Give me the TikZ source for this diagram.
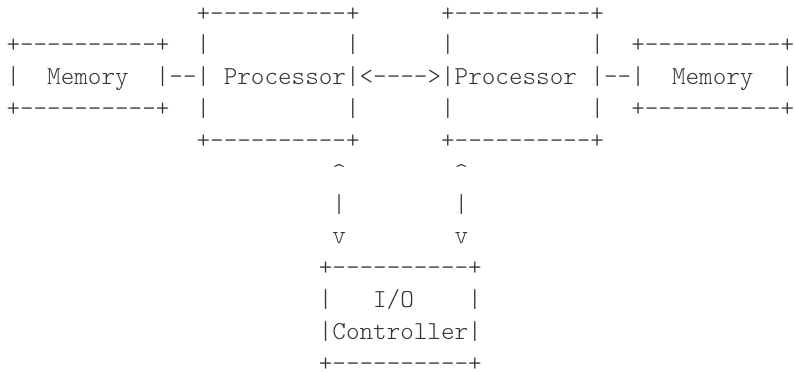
\documentclass[tikz,border=0pt]{standalone}
\usepackage{fontspec}
\definecolor{ink}{HTML}{333333}
\begin{document}
\begin{tikzpicture}[x=1pt,y=-1pt,
  asciirow/.style={anchor=base west, inner sep=0pt, outer sep=0pt,
    font=\ttfamily\fontseries{l}\fontsize{25.87}{28}\selectfont, text=ink}]
\useasboundingbox (0,0) rectangle (794,372);
\def\cw{13.58}
\def\lh{31.85}
% rows: baseline = centre line + 6.5
\node[asciirow] (l0)  at ({6.5+14*\cw}, {14.5+0*\lh+6.5})  {+----------+~~~~~~+----------+};
\node[asciirow] (l1)  at ({6.5+0*\cw},  {14.5+1*\lh+6.5})  {+----------+~~|~~~~~~~~~~|~~~~~~|~~~~~~~~~~|~~+----------+};
\node[asciirow] (l2)  at ({6.5+0*\cw},  {14.5+2*\lh+6.5})  {|~~Memory~~|--|~Processor|<---->|Processor~|--|~~Memory~~|};
\node[asciirow] (l3)  at ({6.5+0*\cw},  {14.5+3*\lh+6.5})  {+----------+~~|~~~~~~~~~~|~~~~~~|~~~~~~~~~~|~~+----------+};
\node[asciirow] (l4)  at ({6.5+14*\cw}, {14.5+4*\lh+6.5})  {+----------+~~~~~~+----------+};
\node[asciirow] (l5)  at ({6.5+24*\cw}, {14.5+5*\lh+6.5})  {\textasciicircum~~~~~~~~\textasciicircum};
\node[asciirow] (l6)  at ({6.5+24*\cw}, {14.5+6*\lh+6.5})  {|~~~~~~~~|};
\node[asciirow] (l7)  at ({6.5+24*\cw}, {14.5+7*\lh+6.5})  {v~~~~~~~~v};
\node[asciirow] (l8)  at ({6.5+23*\cw}, {14.5+8*\lh+6.5})  {+----------+};
\node[asciirow] (l9)  at ({6.5+23*\cw}, {14.5+9*\lh+6.5})  {|~~~I/O~~~~|};
\node[asciirow] (l10) at ({6.5+23*\cw}, {14.5+10*\lh+6.5}) {|Controller|};
\node[asciirow] (l11) at ({6.5+23*\cw}, {14.5+11*\lh+6.5}) {+----------+};
\end{tikzpicture}
\end{document}
